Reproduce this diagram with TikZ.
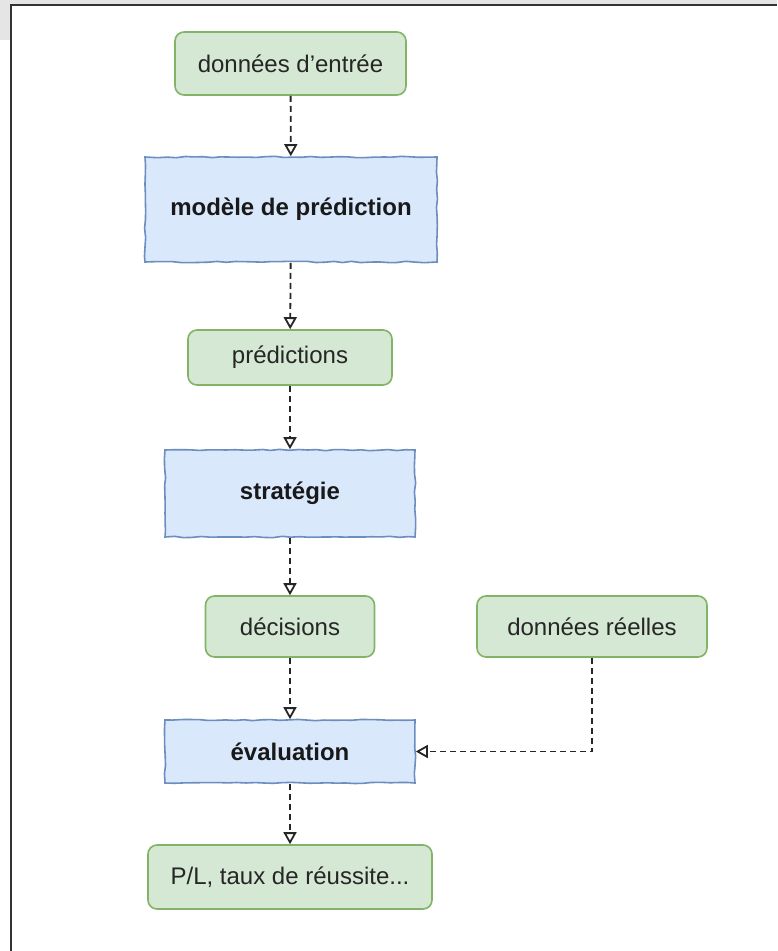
\documentclass[tikz,border=0pt]{standalone}
\usepackage{fontspec}
\setmainfont{Liberation Sans}
\usetikzlibrary{arrows.meta,decorations.pathmorphing}

\definecolor{vertfond}{HTML}{D5E8D4}
\definecolor{vertbord}{HTML}{82B366}
\definecolor{bleufond}{HTML}{DAE8FC}
\definecolor{bleubord}{HTML}{6C8EBF}
\definecolor{cadre}{HTML}{333333}

\tikzset{
  donnee/.style={draw=vertbord, fill=vertfond, rounded corners=9pt, line width=1.6pt,
    font=\fontsize{24}{28}\selectfont, text=black!85},
  etape/.style={draw=bleubord, fill=bleufond, line width=1.6pt,
    decorate, decoration={random steps, segment length=9pt, amplitude=0.7pt},
    font=\fontsize{24}{28}\selectfont\bfseries, text=black!90},
  fleche/.style={draw=black!85, line width=1.8pt, dash pattern=on 6pt off 4pt,
    -{Triangle[open, length=12pt, width=13pt]}}
}

\begin{document}
\begin{tikzpicture}[x=1pt, y=-1pt]
  \useasboundingbox (0, 0) rectangle (777, 951);
  \fill[white] (0, 0) rectangle (777, 951);
  \fill[black!10] (0, 0) rectangle (777, 4);
  \fill[black!10] (0, 0) rectangle (10, 40);
  \draw[cadre, line width=2.4pt] (11, 951) -- (11, 5) -- (777, 5);

  \node[donnee, minimum width=231pt, minimum height=63pt] (entree) at (290.5, 63.5) {données d'entrée};
  \node[etape, minimum width=292pt, minimum height=105pt] (modele) at (291, 209.5) {modèle de prédiction};
  \node[donnee, minimum width=204pt, minimum height=55pt] (predictions) at (290, 357.5) {prédictions};
  \node[etape, minimum width=250pt, minimum height=87pt] (strategie) at (290, 493.5) {stratégie};
  \node[donnee, minimum width=169pt, minimum height=61pt] (decisions) at (290, 626.5) {décisions};
  \node[donnee, minimum width=230pt, minimum height=61pt] (reelles) at (592, 626.5) {données réelles};
  \node[etape, minimum width=250pt, minimum height=63pt] (evaluation) at (290, 751.5) {évaluation};
  \node[donnee, minimum width=284pt, minimum height=64pt] (resultats) at (290, 877) {P/L, taux de réussite...};

  \foreach \a/\b in {entree/modele, modele/predictions, predictions/strategie,
                     strategie/decisions, decisions/evaluation, evaluation/resultats}
    \draw[fleche] (\a) -- (\b);

  \draw[fleche] (reelles.south) |- (evaluation.east);

\end{tikzpicture}
\end{document}
